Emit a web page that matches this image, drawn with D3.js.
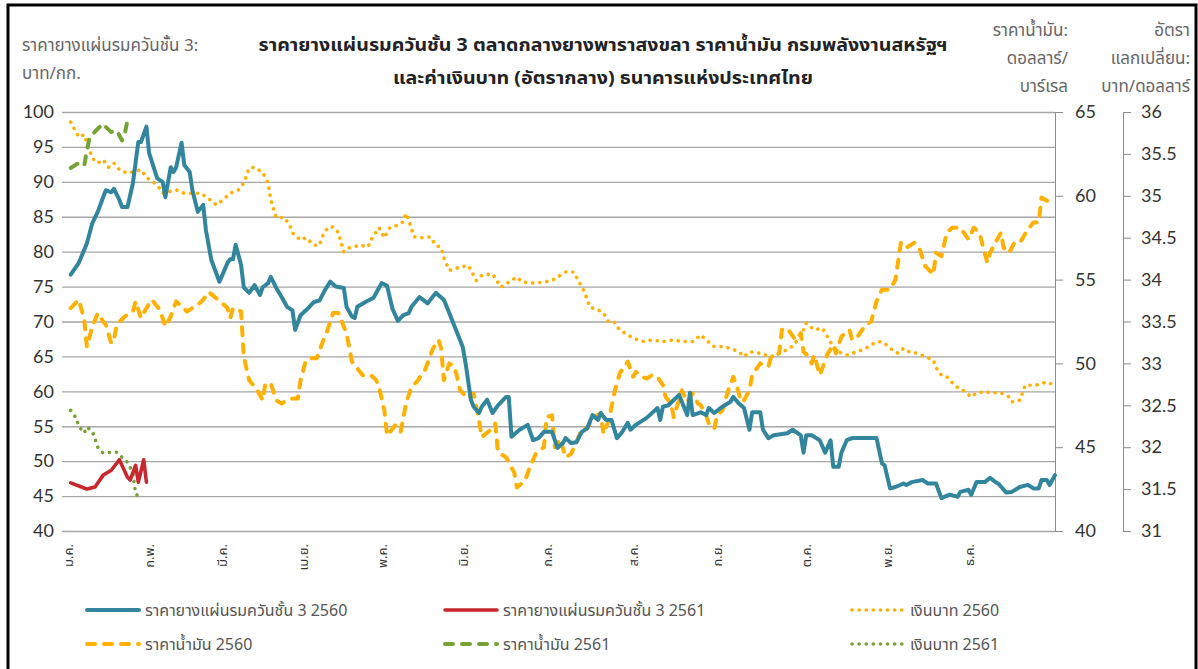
<!DOCTYPE html>
<html>
<head>
<meta charset="utf-8">
<script src="https://cdn.jsdelivr.net/npm/d3@7"></script>
<style>
body { margin: 0; background: #fff; }
svg text { font-family: Tahoma, "Leelawadee UI", "Noto Sans Thai", "Noto Sans", sans-serif; }
.num text, text.num { font-family: Lato, "Open Sans", sans-serif; }
</style>
</head>
<body>
<div id="container"></div>
<script>
// month labels and the position (chart day index) where each one sits
var monthLabels = ["ม.ค.", "ก.พ.", "มี.ค.", "เม.ย.", "พ.ค.", "มิ.ย.", "ก.ค.", "ส.ค.", "ก.ย.", "ต.ค.", "พ.ย.", "ธ.ค."];
var monthPos = [0, 30, 57, 87, 116, 146, 177, 209, 240, 273, 303, 333];

// rubber sheet price grade 3, baht/kg  [day, value]
var rubber2560 = [[1,76.7],[4,78.4],[7,81.2],[9,84.1],[11,85.7],[13,87.8],[14,88.8],[16,88.5],[17,89],[19,87.4],[20,86.4],[22,86.4],[24,89.8],[26,95.7],[27,95.7],[29,97.9],[30,94.1],[33,90.5],[35,90],[36,87.8],[38,92.1],[39,91.4],[40,92.1],[42,95.6],[43,92.4],[45,91.4],[46,88.8],[48,85.7],[50,86.7],[51,83.1],[53,78.8],[56,75.7],[59,78.4],[60,78.9],[61,78.9],[62,81],[64,78.1],[65,74.9],[67,74.1],[69,75.2],[71,73.8],[72,74.9],[74,75.5],[75,76.4],[77,74.8],[79,73.5],[81,72.1],[83,71.6],[84,68.8],[86,70.9],[88,71.6],[91,72.8],[93,73],[95,74.5],[97,75.7],[99,75],[102,74.8],[103,72.1],[105,70.7],[106,70.5],[107,72.1],[110,72.8],[113,73.4],[116,75.5],[118,75.1],[120,71.8],[122,70.1],[124,70.9],[126,71.2],[127,72.1],[130,73.5],[133,72.6],[136,74.1],[139,73.1],[141,71.2],[145,67.3],[146,66.3],[147,64.1],[149,58.8],[150,57.8],[152,56.9],[153,57.8],[155,58.8],[157,56.9],[159,58],[162,59.2],[163,59.2],[164,53.5],[167,54.5],[170,55.2],[172,53],[174,53.3],[176,54.2],[179,54.2],[181,51.9],[183,52.6],[184,53.3],[186,52.6],[188,52.7],[190,54.2],[192,54.7],[194,56.6],[196,55.9],[197,56.9],[199,55.9],[201,55.9],[203,53.3],[205,54.2],[207,55.5],[208,54.5],[210,55.2],[214,56.2],[218,57.6],[219,55.9],[220,57.8],[222,58],[226,59.5],[227,58.5],[229,56.6],[230,59.8],[231,56.6],[234,57],[236,56.6],[237,57.6],[239,56.9],[242,57.8],[245,58.5],[246,59.2],[248,58.3],[250,57.6],[252,54.5],[253,57],[256,57],[257,54.5],[259,53.3],[261,53.7],[266,54],[268,54.5],[271,53.7],[272,51.2],[273,53.7],[275,53.7],[278,53],[280,51.2],[282,53],[283,49.2],[285,49.2],[286,51.2],[288,53],[290,53.3],[299,53.3],[301,49.7],[302,49.4],[304,46.1],[306,46.3],[309,46.8],[310,46.6],[312,47],[316,47.3],[318,46.8],[321,46.8],[323,44.7],[326,45.2],[329,44.9],[330,45.6],[333,45.9],[334,45.2],[336,47],[339,47],[341,47.6],[343,47],[344,46.8],[347,45.5],[349,45.6],[352,46.3],[355,46.6],[357,46.1],[359,46.1],[360,47.3],[362,47.3],[363,46.6],[365,48]];
var rubber2561 = [[1,46.9],[5,46.3],[7,46],[10,46.3],[13,48],[16,48.7],[19,50.2],[22,47.7],[23,47.3],[25,49.4],[26,47],[28,50.2],[29,47]];

// oil price, USD/barrel
var oil2560 = [[1,53.3],[4,53.8],[6,52.6],[7,51],[9,52.2],[11,53],[13,52.5],[14,52.3],[16,51.2],[17,51.4],[18,52.3],[21,52.8],[24,53.1],[25,53.7],[27,52.7],[29,53.3],[31,53.8],[34,53.2],[36,52.2],[38,52.8],[40,53.7],[44,53.1],[48,53.5],[50,53.8],[52,54.26],[54,54],[57,53.6],[59,53.3],[60,52.7],[61,53.3],[64,53.1],[65,50.4],[67,49],[70,48.4],[72,47.8],[73,48.8],[75,48.8],[77,47.8],[79,47.6],[81,47.8],[83,47.9],[85,47.9],[86,49],[88,50.2],[90,50.3],[92,50.3],[94,51.2],[96,52],[98,53],[100,53],[103,51.8],[105,50.1],[109,49.3],[112,49.3],[114,49],[115,48.6],[117,47.2],[118,45.7],[121,46.3],[123,45.9],[125,47.6],[127,48.6],[129,48.9],[132,49.6],[135,50.9],[137,51.4],[138,50.9],[139,49],[141,50],[143,49.8],[145,48.4],[148,47.9],[150,48.2],[152,46.6],[153,45.6],[156,46],[158,46.4],[159,44.7],[162,44.4],[165,43.5],[166,42.6],[169,43],[171,43.9],[173,44.6],[176,45],[177,46.8],[179,46.9],[180,45],[182,45.5],[184,44.4],[186,44.6],[188,45.3],[190,46.1],[192,46.1],[194,46.8],[197,47],[198,45.8],[200,46.6],[202,48.2],[204,49.4],[207,50.1],[209,49.2],[210,49.5],[212,49.2],[214,49.1],[216,49.3],[218,49.2],[220,48.7],[221,48],[223,47.6],[224,46.8],[226,47.8],[227,48.4],[229,47.7],[231,48.2],[233,47.6],[234,47.5],[236,46.9],[237,46.4],[239,46.1],[240,46.9],[242,47.2],[244,48.3],[246,49.2],[247,48.8],[249,47.7],[250,47.8],[252,48.4],[253,49.3],[256,50],[259,49.8],[260,50.4],[263,50.6],[264,52],[266,52.1],[269,51.4],[271,51.8],[272,50.7],[274,50.4],[275,50],[276,50.5],[278,49.3],[281,50.6],[283,51.1],[284,50.6],[286,51.6],[289,52],[290,51.4],[292,51.6],[295,52.3],[297,52.5],[299,53.7],[301,54.4],[304,54.4],[306,55],[308,57.2],[310,56.9],[313,57.2],[315,56.8],[317,55.8],[320,55.3],[321,56.6],[323,56.4],[325,57.8],[327,58.1],[330,58.1],[333,57.4],[335,58.1],[337,57.8],[340,56],[341,56.6],[343,57.2],[345,57.8],[346,56.9],[348,56.6],[350,57.2],[352,57.2],[355,58],[357,58.4],[359,58.4],[360,59.9],[362,59.7],[364,60]];
var oil2561 = [[1,61.66],[4,61.96],[6,61.8],[7,62.7],[8,63.5],[11,64],[13,64.3],[14,64.1],[16,63.8],[18,63.9],[20,63.3],[21,63.7],[22,64.5]];

// baht per dollar (mid rate)
var baht2560 = [[1,35.88],[4,35.7],[6,35.73],[7,35.63],[9,35.45],[11,35.39],[13,35.43],[15,35.34],[17,35.39],[19,35.31],[22,35.27],[27,35.31],[29,35.22],[33,35.13],[35,35.03],[40,35.07],[43,35.03],[49,35.03],[51,34.99],[55,34.89],[60,35.03],[63,35.07],[65,35.15],[67,35.33],[69,35.34],[72,35.28],[74,35.15],[75,34.95],[77,34.74],[80,34.74],[82,34.65],[83,34.56],[86,34.47],[88,34.5],[91,34.41],[93,34.41],[94,34.51],[96,34.62],[98,34.63],[100,34.56],[102,34.33],[104,34.38],[108,34.41],[111,34.39],[112,34.47],[115,34.62],[117,34.5],[119,34.62],[122,34.65],[124,34.69],[125,34.79],[126,34.71],[128,34.51],[131,34.5],[134,34.51],[136,34.41],[138,34.38],[139,34.26],[141,34.11],[144,34.14],[148,34.17],[151,33.99],[153,34.05],[157,34.07],[160,33.91],[162,33.95],[166,34.03],[168,33.97],[172,33.96],[176,33.97],[179,33.99],[184,34.09],[187,34.09],[189,33.97],[191,33.85],[193,33.67],[196,33.64],[198,33.6],[200,33.49],[202,33.49],[204,33.4],[207,33.34],[209,33.3],[213,33.26],[216,33.28],[220,33.26],[224,33.28],[227,33.26],[231,33.26],[234,33.34],[236,33.28],[239,33.2],[242,33.2],[245,33.18],[248,33.14],[250,33.08],[252,33.14],[256,33.12],[260,33.08],[263,33.12],[267,33.18],[271,33.32],[273,33.48],[276,33.4],[279,33.42],[283,33.2],[286,33.12],[288,33.1],[292,33.14],[295,33.18],[298,33.24],[300,33.26],[302,33.24],[304,33.18],[307,33.12],[309,33.18],[311,33.14],[314,33.12],[317,33.08],[320,33.04],[321,32.95],[323,32.86],[325,32.84],[327,32.77],[329,32.71],[332,32.66],[334,32.6],[336,32.65],[339,32.66],[342,32.65],[345,32.65],[348,32.6],[349,32.54],[352,32.56],[354,32.74],[356,32.74],[358,32.74],[361,32.77],[363,32.77],[365,32.71]];
var baht2561 = [[1,32.44],[3,32.35],[4,32.25],[6,32.17],[7,32.24],[9,32.19],[10,32.1],[11,32.0],[13,31.93],[16,31.94],[18,31.94],[20,31.88],[22,31.82],[24,31.69],[25,31.45],[27,31.37]];

var leftTicks = d3.range(40, 101, 5);
var oilTicks = d3.range(40, 66, 5);
var bahtTicks = d3.range(31, 36.01, 0.5);

var W = 1198, H = 669;
var plot = {left: 62, right: 1055, top: 112, bottom: 531};

var svg = d3.select("#container").append("svg").attr("width", W).attr("height", H);

// frame
svg.append("rect").attr("x", 8).attr("y", 5).attr("width", 1188).attr("height", 680)
    .attr("fill", "none").attr("stroke", "#000").attr("stroke-width", 3);

var x = d3.scaleLinear().domain([0, 365]).range([68, plot.right]);
var yL = d3.scaleLinear().domain([40, 100]).range([plot.bottom, plot.top]);
var yOil = d3.scaleLinear().domain([40, 65]).range([plot.bottom, plot.top]);
var yBaht = d3.scaleLinear().domain([31, 36]).range([plot.bottom, plot.top]);

// left axis + gridlines
var gL = svg.append("g").attr("class", "num").attr("transform", "translate(" + plot.left + ",0)")
    .call(d3.axisLeft(yL).tickValues(leftTicks).tickSize(-(plot.right - plot.left)).tickPadding(8));
gL.select(".domain").remove();
gL.selectAll(".tick line").attr("stroke", "#a6a6a6").attr("stroke-width", 1.3);
gL.selectAll(".tick text").attr("fill", "#333").style("font-size", "18px");

// oil axis
var gO = svg.append("g").attr("class", "num").attr("transform", "translate(" + plot.right + ",0)")
    .call(d3.axisRight(yOil).tickValues(oilTicks).tickSizeInner(8).tickSizeOuter(0).tickPadding(12));
gO.select(".domain").attr("stroke", "#8c8c8c");
gO.selectAll(".tick line").attr("stroke", "#8c8c8c");
gO.selectAll(".tick text").attr("fill", "#333").style("font-size", "18px");

// baht axis
var gB = svg.append("g").attr("class", "num").attr("transform", "translate(1123,0)")
    .call(d3.axisRight(yBaht).tickValues(bahtTicks).tickSizeInner(8).tickSizeOuter(0).tickPadding(10)
        .tickFormat(function (d) { return d % 1 === 0 ? d : d.toFixed(1); }));
gB.select(".domain").attr("stroke", "#8c8c8c");
gB.selectAll(".tick line").attr("stroke", "#8c8c8c");
gB.selectAll(".tick text").attr("fill", "#333").style("font-size", "18px");

// month labels
var gX = svg.append("g").attr("transform", "translate(0," + plot.bottom + ")")
    .call(d3.axisBottom(x).tickValues(monthPos).tickSize(0)
        .tickFormat(function (d, i) { return monthLabels[i]; }));
gX.select(".domain").remove();
gX.selectAll(".tick text")
    .attr("transform", "rotate(-90)")
    .attr("x", -13).attr("y", 0).attr("dy", "0.35em")
    .style("text-anchor", "end").style("font-size", "13px").attr("fill", "#333");

// series
var lineL = d3.line().x(function (d) { return x(d[0]); }).y(function (d) { return yL(d[1]); });
var lineO = d3.line().x(function (d) { return x(d[0]); }).y(function (d) { return yOil(d[1]); });
var lineB = d3.line().x(function (d) { return x(d[0]); }).y(function (d) { return yBaht(d[1]); });

var series = [
    {data: baht2560, line: lineB, color: "#FFB000", w: 3.6, dash: "0.1,7", label: "เงินบาท 2560"},
    {data: baht2561, line: lineB, color: "#77A236", w: 3.6, dash: "0.1,7", label: "เงินบาท 2561"},
    {data: oil2560, line: lineO, color: "#FFB000", w: 4, dash: "8,9", label: "ราคาน้ำมัน 2560"},
    {data: oil2561, line: lineO, color: "#77A236", w: 4, dash: "8,9", label: "ราคาน้ำมัน 2561"},
    {data: rubber2560, line: lineL, color: "#31859C", w: 4, dash: null, label: "ราคายางแผ่นรมควันชั้น 3 2560"},
    {data: rubber2561, line: lineL, color: "#C8282D", w: 3.6, dash: null, label: "ราคายางแผ่นรมควันชั้น 3 2561"}
];

svg.append("g").selectAll("path").data(series).enter().append("path")
    .attr("d", function (s) { return s.line(s.data); })
    .attr("fill", "none")
    .attr("stroke", function (s) { return s.color; })
    .attr("stroke-width", function (s) { return s.w; })
    .attr("stroke-dasharray", function (s) { return s.dash; })
    .attr("stroke-linecap", "round")
    .attr("stroke-linejoin", "round");

// legend
var legendPos = [
    {s: 4, x: 85, y: 610}, {s: 5, x: 443, y: 610}, {s: 0, x: 850, y: 610},
    {s: 2, x: 85, y: 644}, {s: 3, x: 443, y: 644}, {s: 1, x: 850, y: 644}
];
var lg = svg.append("g").selectAll("g").data(legendPos).enter().append("g")
    .attr("transform", function (d) { return "translate(" + d.x + "," + d.y + ")"; });
lg.append("line").attr("x1", 2).attr("x2", 54)
    .attr("stroke", function (d) { return series[d.s].color; })
    .attr("stroke-width", function (d) { return series[d.s].w; })
    .attr("stroke-dasharray", function (d) { return series[d.s].dash; })
    .attr("stroke-linecap", "round");
lg.append("text").attr("x", 60).attr("dy", "0.35em")
    .style("font-size", "16px").attr("fill", "#555")
    .text(function (d) { return series[d.s].label; });

// titles
var title = svg.append("text").attr("x", 603).attr("y", 51).attr("text-anchor", "middle")
    .style("font-size", "17px").style("font-weight", "bold").attr("fill", "#222");
title.append("tspan").attr("x", 603).attr("textLength", 689).attr("lengthAdjust", "spacingAndGlyphs")
    .text("ราคายางแผ่นรมควันชั้น 3 ตลาดกลางยางพาราสงขลา ราคาน้ำมัน กรมพลังงานสหรัฐฯ");
title.append("tspan").attr("x", 603).attr("dy", 33).attr("textLength", 420).attr("lengthAdjust", "spacingAndGlyphs")
    .text("และค่าเงินบาท (อัตรากลาง) ธนาคารแห่งประเทศไทย");

var axTitle = function (lines, xx, anchor) {
    var t = svg.append("text").attr("x", xx).attr("y", 36).attr("text-anchor", anchor)
        .style("font-size", "17px").attr("fill", "#666");
    lines.forEach(function (l, i) {
        t.append("tspan").attr("x", xx).attr("dy", i === 0 ? 0 : 28).text(l);
    });
};
svg.append("text").attr("x", 22).attr("y", 51).style("font-size", "17px").attr("fill", "#666")
    .text("ราคายางแผ่นรมควันชั้น 3:")
    .append("tspan").attr("x", 22).attr("dy", 28).text("บาท/กก.");
axTitle(["ราคาน้ำมัน:", "ดอลลาร์/", "บาร์เรล"], 1068, "end");
axTitle(["อัตรา", "แลกเปลี่ยน:", "บาท/ดอลลาร์"], 1190, "end");
</script>
</body>
</html>
